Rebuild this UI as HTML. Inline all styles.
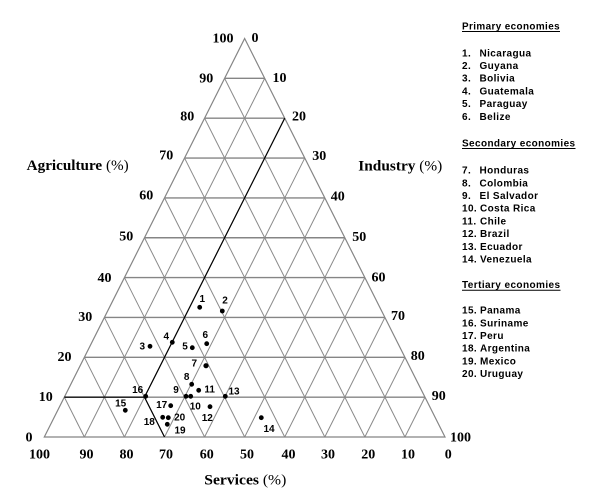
<!DOCTYPE html>
<html>
<head>
<meta charset="utf-8">
<style>
  html, body { margin: 0; padding: 0; background: #ffffff; }
  svg { display: block; }
  .tick { font-family: "Liberation Serif", serif; font-weight: bold; font-size: 14px; fill: #000; }
  .title { font-family: "Liberation Serif", serif; font-size: 15px; fill: #000; }
  .lg { font-family: "Liberation Sans", sans-serif; font-weight: bold; font-size: 10px; letter-spacing: 0.4px; fill: #000; }
  .dl { font-family: "Liberation Sans", sans-serif; font-weight: bold; font-size: 10px; fill: #000; }
</style>
</head>
<body>
<svg width="604" height="504" viewBox="0 0 604 504" xmlns="http://www.w3.org/2000/svg">
  <rect x="0" y="0" width="604" height="504" fill="#ffffff"/>

  <g stroke="#858585" stroke-width="1.4" fill="none">
    <line x1="64.34" y1="397.15" x2="424.97" y2="397.15"/>
    <line x1="84.37" y1="357.3" x2="404.93" y2="357.3"/>
    <line x1="104.4" y1="317.45" x2="384.9" y2="317.45"/>
    <line x1="124.44" y1="277.6" x2="364.86" y2="277.6"/>
    <line x1="144.48" y1="237.75" x2="344.83" y2="237.75"/>
    <line x1="164.51" y1="197.9" x2="324.79" y2="197.9"/>
    <line x1="184.55" y1="158.05" x2="304.76" y2="158.05"/>
    <line x1="204.58" y1="118.2" x2="284.72" y2="118.2"/>
    <line x1="224.62" y1="78.35" x2="264.69" y2="78.35"/>
  </g>
  <g stroke="#8a8a8a" stroke-width="1" fill="none">
    <line x1="264.69" y1="78.35" x2="84.37" y2="437"/>
    <line x1="284.72" y1="118.2" x2="124.44" y2="437"/>
    <line x1="304.76" y1="158.05" x2="164.51" y2="437"/>
    <line x1="324.79" y1="197.9" x2="204.58" y2="437"/>
    <line x1="344.83" y1="237.75" x2="244.65" y2="437"/>
    <line x1="364.86" y1="277.6" x2="284.72" y2="437"/>
    <line x1="384.9" y1="317.45" x2="324.79" y2="437"/>
    <line x1="404.93" y1="357.3" x2="364.86" y2="437"/>
    <line x1="424.97" y1="397.15" x2="404.93" y2="437"/>
    <line x1="224.62" y1="78.35" x2="404.93" y2="437"/>
    <line x1="204.58" y1="118.2" x2="364.86" y2="437"/>
    <line x1="184.55" y1="158.05" x2="324.79" y2="437"/>
    <line x1="164.51" y1="197.9" x2="284.72" y2="437"/>
    <line x1="144.48" y1="237.75" x2="244.65" y2="437"/>
    <line x1="124.44" y1="277.6" x2="204.58" y2="437"/>
    <line x1="104.4" y1="317.45" x2="164.51" y2="437"/>
    <line x1="84.37" y1="357.3" x2="124.44" y2="437"/>
    <line x1="64.34" y1="397.15" x2="84.37" y2="437"/>
  </g>
  <polygon points="244.65,38.5 445,437 44.3,437" fill="none" stroke="#858585" stroke-width="1.2"/>

  <g stroke="#000" stroke-width="1.2" fill="none">
    <polyline points="284.72,118.2 144.48,397.15 164.51,437"/>
    <line x1="64.34" y1="397.15" x2="144.48" y2="397.15"/>
  </g>

  <g class="tick" text-anchor="end">
    <text x="32.5" y="441.5">0</text>
    <text x="52.7" y="401">10</text>
    <text x="71.5" y="361">20</text>
    <text x="92.3" y="321">30</text>
    <text x="111.5" y="282">40</text>
    <text x="133.3" y="240.5">50</text>
    <text x="153.3" y="199.3">60</text>
    <text x="173.3" y="159.3">70</text>
    <text x="194.3" y="120.5">80</text>
    <text x="213.3" y="82.3">90</text>
    <text x="233.5" y="42.3">100</text>
  </g>
  <g class="tick" text-anchor="start">
    <text x="251.5" y="42">0</text>
    <text x="272.5" y="82">10</text>
    <text x="292" y="120.7">20</text>
    <text x="312.3" y="160">30</text>
    <text x="330.7" y="200.7">40</text>
    <text x="352.3" y="241">50</text>
    <text x="371.5" y="281.5">60</text>
    <text x="391" y="320">70</text>
    <text x="410.7" y="360">80</text>
    <text x="431.7" y="400">90</text>
    <text x="450" y="441.7">100</text>
  </g>
  <g class="tick" text-anchor="middle">
    <text x="39.5" y="458.7">100</text>
    <text x="86.5" y="458.7">90</text>
    <text x="126.5" y="458.7">80</text>
    <text x="166" y="458.7">70</text>
    <text x="206.7" y="458.7">60</text>
    <text x="247" y="458.7">50</text>
    <text x="288.5" y="458.7">40</text>
    <text x="328" y="458.7">30</text>
    <text x="368.3" y="458.7">20</text>
    <text x="408" y="458.7">10</text>
    <text x="448.3" y="458.7">0</text>
  </g>

  <text class="title" x="26.7" y="170" textLength="102" lengthAdjust="spacingAndGlyphs"><tspan font-weight="bold">Agriculture</tspan> (%)</text>
  <text class="title" x="358.3" y="170.5" textLength="84" lengthAdjust="spacingAndGlyphs"><tspan font-weight="bold">Industry</tspan> (%)</text>
  <text class="title" x="204.3" y="484.3" textLength="82" lengthAdjust="spacingAndGlyphs"><tspan font-weight="bold">Services</tspan> (%)</text>

  <g fill="#000">
    <circle cx="199.7" cy="307.3" r="2.4"/>
    <circle cx="222.3" cy="311" r="2.4"/>
    <circle cx="150" cy="346.3" r="2.4"/>
    <circle cx="172.3" cy="342.3" r="2.4"/>
    <circle cx="192.3" cy="347.7" r="2.4"/>
    <circle cx="206.7" cy="343.7" r="2.4"/>
    <circle cx="206" cy="365.7" r="2.6"/>
    <circle cx="191.7" cy="384.3" r="2.4"/>
    <circle cx="186" cy="396.3" r="2.4"/>
    <circle cx="190.7" cy="396.3" r="2.4"/>
    <circle cx="198.7" cy="390.3" r="2.4"/>
    <circle cx="210" cy="406.7" r="2.4"/>
    <circle cx="225.3" cy="396.3" r="2.4"/>
    <circle cx="261.3" cy="417.7" r="2.4"/>
    <circle cx="125.3" cy="410.3" r="2.4"/>
    <circle cx="145.7" cy="396.3" r="2.4"/>
    <circle cx="170.7" cy="405.7" r="2.4"/>
    <circle cx="162.7" cy="417.3" r="2.4"/>
    <circle cx="168.3" cy="417.7" r="2.4"/>
    <circle cx="167.3" cy="424.3" r="2.4"/>
  </g>
  <g class="dl" text-anchor="middle">
    <text x="202.3" y="302">1</text>
    <text x="225" y="303.6">2</text>
    <text x="142.3" y="349.3">3</text>
    <text x="166.3" y="339.6">4</text>
    <text x="185" y="349.6">5</text>
    <text x="205.3" y="337.9">6</text>
    <text x="194.3" y="366.6">7</text>
    <text x="186.7" y="379.9">8</text>
    <text x="176" y="392.9">9</text>
    <text x="195.3" y="409.6">10</text>
    <text x="209.7" y="392.6">11</text>
    <text x="207.3" y="420.9">12</text>
    <text x="234" y="394.6">13</text>
    <text x="269" y="431.9">14</text>
    <text x="120.7" y="406.6">15</text>
    <text x="137.7" y="392.9">16</text>
    <text x="161.7" y="407.9">17</text>
    <text x="149.3" y="424.9">18</text>
    <text x="180" y="433.6">19</text>
    <text x="179.7" y="420.6">20</text>
  </g>

  <g class="lg">
    <text x="462" y="29.3" textLength="98" lengthAdjust="spacingAndGlyphs">Primary economies</text>
    <line x1="462" y1="31.5" x2="560" y2="31.5" stroke="#000" stroke-width="1"/>
    <text x="462" y="56.3">1.</text><text x="479.5" y="56.3">Nicaragua</text>
    <text x="462" y="69">2.</text><text x="479.5" y="69">Guyana</text>
    <text x="462" y="81.7">3.</text><text x="479.5" y="81.7">Bolivia</text>
    <text x="462" y="94.4">4.</text><text x="479.5" y="94.4">Guatemala</text>
    <text x="462" y="107.1">5.</text><text x="479.5" y="107.1">Paraguay</text>
    <text x="462" y="119.8">6.</text><text x="479.5" y="119.8">Belize</text>

    <text x="462" y="146.3" textLength="113.5" lengthAdjust="spacingAndGlyphs">Secondary economies</text>
    <line x1="462" y1="148.5" x2="575.5" y2="148.5" stroke="#000" stroke-width="1"/>
    <text x="462" y="173.6">7.</text><text x="479.5" y="173.6">Honduras</text>
    <text x="462" y="186.3">8.</text><text x="479.5" y="186.3">Colombia</text>
    <text x="462" y="199">9.</text><text x="479.5" y="199">El Salvador</text>
    <text x="462" y="211.7">10.</text><text x="480" y="211.7">Costa Rica</text>
    <text x="462" y="224.4">11.</text><text x="480" y="224.4">Chile</text>
    <text x="462" y="237.1">12.</text><text x="480" y="237.1">Brazil</text>
    <text x="462" y="249.8">13.</text><text x="480" y="249.8">Ecuador</text>
    <text x="462" y="262.5">14.</text><text x="480" y="262.5">Venezuela</text>

    <text x="462" y="288" textLength="98.5" lengthAdjust="spacingAndGlyphs">Tertiary economies</text>
    <line x1="462" y1="290.2" x2="560.5" y2="290.2" stroke="#000" stroke-width="1"/>
    <text x="462" y="313.6">15.</text><text x="480" y="313.6">Panama</text>
    <text x="462" y="326.3">16.</text><text x="480" y="326.3">Suriname</text>
    <text x="462" y="339">17.</text><text x="480" y="339">Peru</text>
    <text x="462" y="351.7">18.</text><text x="480" y="351.7">Argentina</text>
    <text x="462" y="364.4">19.</text><text x="480" y="364.4">Mexico</text>
    <text x="462" y="377.1">20.</text><text x="480" y="377.1">Uruguay</text>
  </g>
</svg>
</body>
</html>
